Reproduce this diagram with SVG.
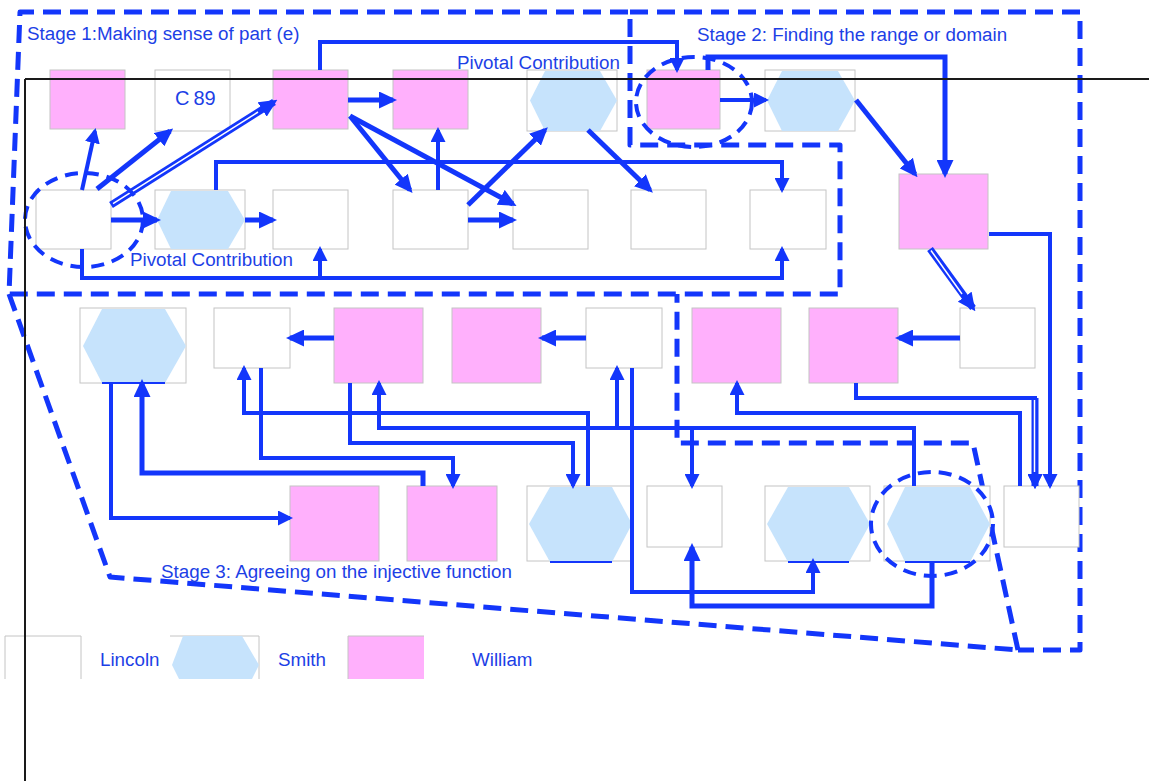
<svg xmlns="http://www.w3.org/2000/svg" width="1149" height="781" viewBox="0 0 1149 781">
<style>
.w{fill:#fff;stroke:#c4c4c4;stroke-width:1}
.p{fill:#ffb0fc;stroke:#c4c4c4;stroke-width:1}
.hx{fill:#c6e3fc;stroke:none}
.hl{stroke:#1336fb;stroke-width:2;fill:none}
.c{fill:none;stroke:#1336fb;stroke-width:4}
.t{stroke-width:5}
.d{stroke-width:7}
.in{fill:none;stroke:#fff;stroke-width:1.5}
.stage{fill:none;stroke:#1336fb;stroke-width:5;stroke-dasharray:18 9;stroke-linejoin:round}
.el{fill:none;stroke:#1336fb;stroke-width:4;stroke-dasharray:13 8}
text{font-family:"Liberation Sans",Arial,sans-serif;font-size:18.8px;fill:#1d3fe6}
.ax{stroke:#1a1a1a;stroke-width:2;fill:none}
</style>
<defs>
<marker id="a" markerUnits="userSpaceOnUse" markerWidth="15" markerHeight="15" viewBox="0 0 15 15" refX="12" refY="7.5" orient="auto"><path d="M0,0L15,7.5L0,15Z" fill="#1336fb"/></marker>
<marker id="b" markerUnits="userSpaceOnUse" markerWidth="18" markerHeight="17" viewBox="0 0 18 17" refX="14" refY="8.5" orient="auto"><path d="M0,0L18,8.5L0,17Z" fill="#1336fb"/></marker>
</defs>
<rect width="1149" height="781" fill="#fff"/>

<g id="stages">
<path class="stage" d="M630,145 L630,12 L20,12 L9,294 L840,294 L840,145 Z"/>
<path class="stage" d="M630,12 L1080,12 L1080,650 L1018,650"/>
<path class="stage" d="M1018,650 L973,443 L677,443 L677,294"/>
<path class="stage" d="M9,294 L110,577 L1018,650"/>
</g>

<g id="nodes">
<g id="w1"><rect class="p" x="50" y="70" width="75" height="59"/></g>
<g id="c89"><rect class="w" x="155" y="70" width="75" height="61"/><text x="175" y="105" style="font-size:20px">C<tspan dx="4">89</tspan></text></g>
<g id="w2"><rect class="p" x="273" y="70" width="75" height="59"/></g>
<g id="w3"><rect class="p" x="393" y="70" width="75" height="59"/></g>
<g id="s1"><rect class="w" x="527" y="70" width="90" height="61"/><polygon class="hx" points="530,100.5 545,71 600,71 617,100.5 600,131 545,131"/></g>
<g id="w4"><rect class="p" x="647" y="70" width="73" height="59"/></g>
<g id="s2"><rect class="w" x="765" y="70" width="90" height="61"/><polygon class="hx" points="767,100.5 782,71 838,71 855,100.5 838,131 782,131"/></g>

<g id="l1"><rect class="w" x="36" y="190" width="75" height="59"/></g>
<g id="s3"><rect class="w" x="155" y="190" width="90" height="59"/><polygon class="hx" points="157,220 171,191 228,191 245,220 228,249 171,249"/></g>
<g id="l2"><rect class="w" x="273" y="190" width="75" height="59"/></g>
<g id="l3"><rect class="w" x="393" y="190" width="75" height="59"/></g>
<g id="l4"><rect class="w" x="513" y="190" width="75" height="59"/></g>
<g id="l5"><rect class="w" x="631" y="190" width="75" height="59"/></g>
<g id="l6"><rect class="w" x="750" y="190" width="76" height="59"/></g>
<g id="w5"><rect class="p" x="899" y="174" width="89" height="75"/></g>

<g id="s4"><rect class="w" x="80" y="308" width="106" height="75"/><polygon class="hx" points="83,346 102,309 165,309 186,346 165,383 102,383"/><path class="hl" d="M102,383H165"/></g>
<g id="l7"><rect class="w" x="214" y="308" width="76" height="60"/></g>
<g id="w6"><rect class="p" x="334" y="308" width="89" height="75"/></g>
<g id="w7"><rect class="p" x="452" y="308" width="89" height="75"/></g>
<g id="l8"><rect class="w" x="586" y="308" width="76" height="60"/></g>
<g id="w8"><rect class="p" x="692" y="308" width="89" height="75"/></g>
<g id="w9"><rect class="p" x="809" y="308" width="89" height="75"/></g>
<g id="l9"><rect class="w" x="960" y="308" width="75" height="60"/></g>

<g id="w10"><rect class="p" x="290" y="486" width="89" height="75"/></g>
<g id="w11"><rect class="p" x="407" y="486" width="90" height="75"/></g>
<g id="s5"><rect class="w" x="527" y="486" width="105" height="75"/><polygon class="hx" points="529,524 550,487 612,487 632,524 612,562 550,562"/><path class="hl" d="M550,562H612"/></g>
<g id="l10"><rect class="w" x="647" y="486" width="75" height="61"/></g>
<g id="s6"><rect class="w" x="765" y="486" width="105" height="75"/><polygon class="hx" points="767,524 788,487 849,487 870,524 849,562 788,562"/><path class="hl" d="M788,562H849"/></g>
<g id="s7"><rect class="w" x="884" y="486" width="106" height="75"/><polygon class="hx" points="887,524 905,487 970,487 990,524 970,562 905,562"/><path class="hl" d="M905,562H970"/></g>
<g id="l11"><rect class="w" x="1004" y="486" width="75" height="61"/></g>
</g>

<g id="connectors">
<path class="c" d="M82,190 L95,131" marker-end="url(#a)"/>
<path class="c t" d="M97,189 L170,131" marker-end="url(#b)"/>
<path class="c d" d="M111,205 L274,102" marker-end="url(#b)"/>
<path class="in" d="M113,203.7 L258,112"/>
<path class="c t" d="M111,220 H157" marker-end="url(#b)"/>
<path class="c t" d="M245,220 H273" marker-end="url(#b)"/>
<path class="c" d="M216,190 V162 H782 V190" marker-end="url(#a)"/>
<path class="c" d="M82,249 V278 H320 V249" marker-end="url(#a)"/>
<path class="c" d="M82,249 V278 H782 V249" marker-end="url(#a)"/>
<path class="c t" d="M348,100 H393" marker-end="url(#b)"/>
<path class="c t" d="M350,116 L410,190" marker-end="url(#b)"/>
<path class="c t" d="M350,116 L513,204" marker-end="url(#b)"/>
<path class="c" d="M438,190 V130" marker-end="url(#a)"/>
<path class="c t" d="M468,205 L545,130" marker-end="url(#b)"/>
<path class="c t" d="M468,220 H513" marker-end="url(#b)"/>
<path class="c t" d="M588,130 L650,190" marker-end="url(#b)"/>
<path class="c" d="M320,70 V42 H677 V70" marker-end="url(#a)"/>
<path class="c t" d="M708,70 V57 H945 V174" marker-end="url(#b)"/>
<path class="c" d="M720,100 H766" marker-end="url(#a)"/>
<path class="c t" d="M856,100 L915,174" marker-end="url(#b)"/>
<path class="c d" d="M930,249 L973,308" marker-end="url(#b)"/>
<path class="in" d="M931,250.5 L962,294"/>
<path class="c" d="M989,234 H1050 V486" marker-end="url(#a)"/>
<path class="c" d="M856,383 V398 H1035 V486" marker-end="url(#a)"/>
<path class="c d" d="M1035,398 V486" marker-end="url(#a)"/>
<path class="in" d="M1034.5,400 V472"/>
<path class="c t" d="M960,338 H899" marker-end="url(#b)"/>
<path class="c t" d="M586,338 H542" marker-end="url(#b)"/>
<path class="c t" d="M334,338 H290" marker-end="url(#b)"/>
<path class="c" d="M588,486 V413 H244 V368" marker-end="url(#a)"/>
<path class="c" d="M914,486 V428 H379 V383" marker-end="url(#a)"/>
<path class="c" d="M914,486 V428 H617 V368" marker-end="url(#a)"/>
<path class="c" d="M914,486 V428 H692 V486" marker-end="url(#a)"/>
<path class="c" d="M1020,486 V413 H737 V383" marker-end="url(#a)"/>
<path class="c" d="M350,383 V443 H573 V486" marker-end="url(#a)"/>
<path class="c" d="M261,368 V458 H453 V486" marker-end="url(#a)"/>
<path class="c t" d="M423,486 V473 H142 V383" marker-end="url(#b)"/>
<path class="c" d="M111,383 V518 H290" marker-end="url(#a)"/>
<path class="c" d="M632,368 V592 H813 V561" marker-end="url(#a)"/>
<path class="c t" d="M932,561 V606 H692 V547" marker-end="url(#b)"/>
</g>

<g id="highlights">
<ellipse class="el" cx="84" cy="220" rx="59" ry="47"/>
<ellipse class="el" cx="694" cy="102" rx="58" ry="45"/>
<ellipse class="el" cx="932" cy="524" rx="61" ry="52"/>
</g>

<g id="labels">
<text x="27" y="40">Stage 1:Making sense of part (e)</text>
<text x="697" y="41">Stage 2: Finding the range or domain</text>
<text x="457" y="69">Pivotal Contribution</text>
<text x="130" y="266">Pivotal Contribution</text>
<text x="161" y="578">Stage 3: Agreeing on the injective function</text>
</g>

<g id="legend">
<g id="legend-lincoln"><rect x="5" y="636" width="76" height="43" fill="#fff"/><path d="M5,679 V636 H81 V679" fill="none" stroke="#c4c4c4" stroke-width="1"/><text x="100" y="666">Lincoln</text></g>
<g id="legend-smith"><path d="M170,636 H259 V679" fill="none" stroke="#c4c4c4" stroke-width="1"/><polygon class="hx" points="183,636 242,636 259,665 252,679 179,679 172,665"/><text x="278" y="666">Smith</text></g>
<g id="legend-william"><rect x="348" y="636" width="76" height="43" fill="#ffb0fc"/><path d="M348,679 V636 H424" fill="none" stroke="#c4c4c4" stroke-width="1"/><text x="472" y="666">William</text></g>
</g>

<g id="axes">
<path class="ax" d="M25,79 H1149 M25,79 V781"/>
</g>
</svg>
